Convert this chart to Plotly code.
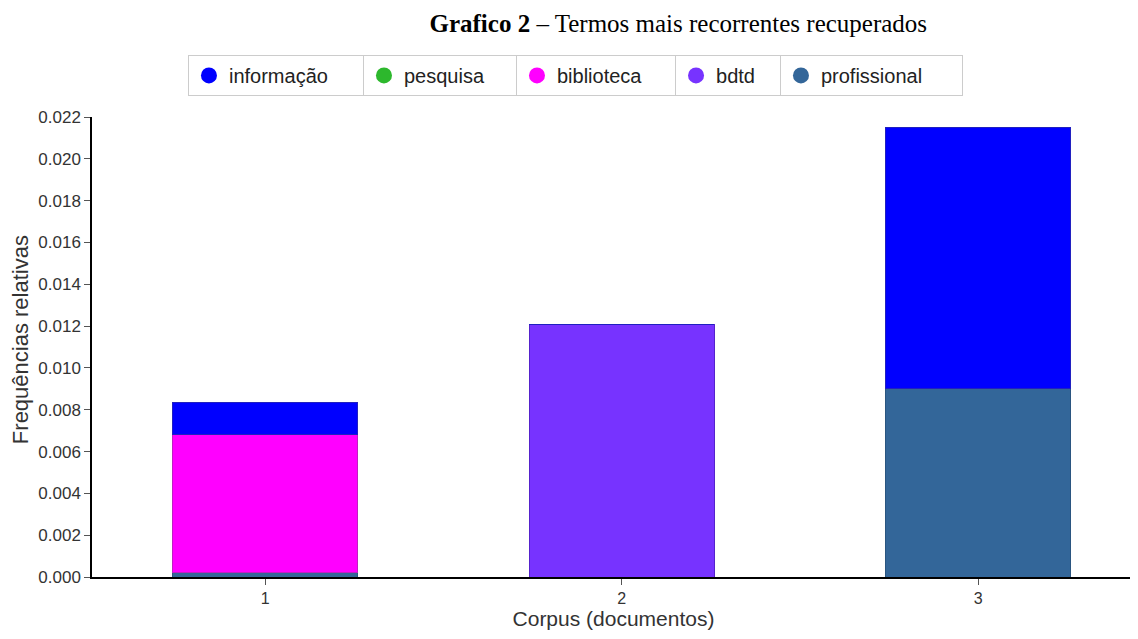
import plotly.graph_objects as go

corpus = [1, 2, 3]
tick_labels = ["1", "2", "3"]
terms = ["informação", "pesquisa", "biblioteca", "bdtd", "profissional"]
colors = {"informação": "#0000FF", "pesquisa": "#2DB82D", "biblioteca": "#FF00FF",
          "bdtd": "#7733FF", "profissional": "#336699"}
edge = {"informação": "#2020C0", "pesquisa": "#208020", "biblioteca": "#C020C0",
        "bdtd": "#5522CC", "profissional": "#2A5580"}

# values per term for corpus 1,2,3
profissional = [0.0002, 0.0, 0.0090]
biblioteca = [0.0066, 0.0, 0.0]
bdtd = [0.0, 0.0121, 0.0]
pesquisa = [0.0, 0.0, 0.0]
informacao = [0.00153, 0.0, 0.01248]

stack_order = [("profissional", profissional), ("biblioteca", biblioteca), ("bdtd", bdtd),
               ("pesquisa", pesquisa), ("informação", informacao)]

fig = go.Figure()
for name, vals in stack_order:
    fig.add_trace(go.Bar(x=corpus, y=vals, name=name, width=0.52, showlegend=False,
                         marker=dict(color=colors[name], line=dict(color=edge[name], width=1))))

# one boxed legend per term, placed side by side
legend_x = [0.092, 0.2598, 0.4065, 0.559, 0.6596]
legend_w = [129, 107, 113, 60, 136]
legend_ids = ["legend", "legend2", "legend3", "legend4", "legend5"]
for name, lid in zip(terms, legend_ids):
    fig.add_trace(go.Scatter(x=[None], y=[None], mode="markers", name=name, legend=lid,
                             marker=dict(symbol="circle", size=16, color=colors[name])))

layout_legends = {}
for lid, lx, lw in zip(legend_ids, legend_x, legend_w):
    layout_legends[lid] = dict(orientation="h", x=lx, xanchor="left", y=1.135, yanchor="top",
                               bordercolor="#CCCCCC", borderwidth=1, bgcolor="white",
                               font=dict(size=20, color="#222222"), itemwidth=30,
                               entrywidth=lw, entrywidthmode="pixels")

fig.update_layout(
    barmode="stack",
    width=1138, height=639,
    margin=dict(l=84, r=11, t=109, b=70, autoexpand=False),
    plot_bgcolor="white", paper_bgcolor="white",
    font=dict(family="Liberation Sans, Arial, sans-serif", color="#333333"),
    title=dict(text="<b>Grafico 2</b> – Termos mais recorrentes recuperados",
               font=dict(family="Liberation Serif, Times New Roman, serif", size=25, color="black"),
               x=0.589, xanchor="center", y=0.976, yanchor="middle"),
    xaxis=dict(range=[0.514, 3.44], tickvals=corpus, ticktext=tick_labels, automargin=False,
               showline=True, linecolor="black", linewidth=1.5, ticks="outside", ticklen=6,
               tickcolor="#555555", showgrid=False, zeroline=False,
               tickfont=dict(size=16, color="#333333"),
               title=dict(text="Corpus (documentos)", font=dict(size=21, color="#333333"), standoff=2)),
    yaxis=dict(range=[0, 0.022], dtick=0.002, tickformat=".3f", automargin=False,
               showline=True, linecolor="black", linewidth=1.5, ticks="outside", ticklen=6,
               tickcolor="#555555", showgrid=False, zeroline=False,
               tickfont=dict(size=17, color="#333333")),
    annotations=[dict(text="Frequências relativas", textangle=-90, xref="paper", yref="paper",
                      x=-0.069, y=0.515, xanchor="center", yanchor="middle", showarrow=False,
                      font=dict(size=22, color="#333333"))],
    **layout_legends,
)

fig.write_html("out.html")
